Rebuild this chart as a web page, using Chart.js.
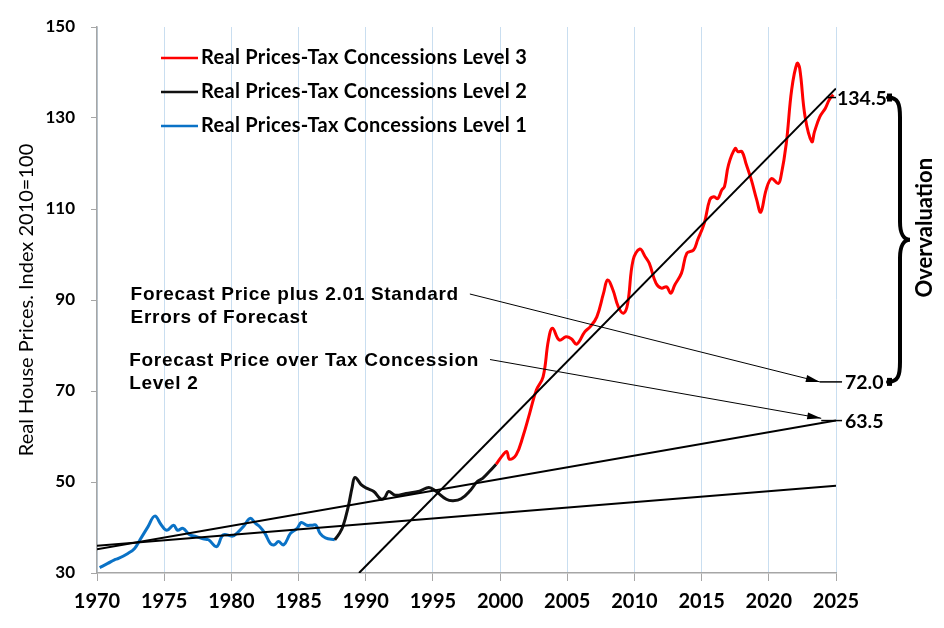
<!DOCTYPE html>
<html>
<head>
<meta charset="utf-8">
<script src="https://cdn.jsdelivr.net/npm/chart.js@4.4.1/dist/chart.umd.min.js"></script>
<style>
  html, body { margin: 0; padding: 0; background: #fff; }
</style>
</head>
<body>
<canvas id="priceChart" width="944" height="628"></canvas>
<script>
// Real house prices, index 2010=100
const lvl1Years = [1970.2, 1970.8, 1971.3, 1971.6, 1972.3, 1972.8, 1973.2, 1973.8, 1974.3, 1974.8, 1975.2, 1975.7,
    1976.0, 1976.4, 1976.9, 1977.4, 1977.9, 1978.3, 1978.9, 1979.4, 1980.1, 1980.5, 1980.9, 1981.4, 1981.8,
    1982.1, 1982.5, 1982.9, 1983.2, 1983.5, 1983.9, 1984.4, 1984.9, 1985.2, 1985.6, 1986.0, 1986.3, 1986.6,
    1987.0, 1987.7];
const lvl1Values = [31.2, 32.1, 32.9, 33.2, 34.3, 35.4, 37.3, 40.2, 42.5, 40.5, 39.4, 40.5,
    39.4, 39.8, 38.4, 38.0, 37.5, 37.3, 35.8, 38.4, 38.1, 39.0, 40.2, 42.0, 40.9,
    40.2, 38.7, 36.5, 36.2, 36.9, 36.2, 38.7, 39.8, 41.1, 40.5, 40.5, 40.5, 38.7,
    37.7, 37.3];

const lvl2Years = [1987.7, 1988.0, 1988.3, 1988.7, 1989.0, 1989.2, 1989.7, 1990.1, 1990.6, 1991.1, 1991.4,
    1991.7, 1992.2, 1993.0, 1994.0, 1994.7, 1995.2, 1996.0, 1996.5, 1997.1, 1997.8, 1998.3, 1998.7,
    1999.2, 1999.7];
const lvl2Values = [37.3, 38.5, 40.2, 44.6, 49.0, 51.0, 49.3, 48.6, 47.9, 46.3, 46.5,
    47.9, 47.1, 47.5, 48.0, 48.8, 48.0, 46.2, 45.9, 46.3, 48.2, 50.1, 50.8,
    52.3, 53.9];

const lvl3Years = [1999.7, 2000.2, 2000.5, 2000.7, 2001.2, 2001.7, 2002.2, 2002.7, 2003.2, 2003.6, 2003.9,
    2004.4, 2004.9, 2005.3, 2005.7, 2006.3, 2006.7, 2007.2, 2007.7, 2008.0, 2008.4, 2008.8, 2009.2,
    2009.5, 2009.9, 2010.4, 2010.8, 2011.1, 2011.6, 2012.0, 2012.4, 2012.7, 2013.0, 2013.5, 2013.9,
    2014.4, 2014.7, 2015.2, 2015.6, 2015.9, 2016.2, 2016.5, 2016.7, 2017.0, 2017.5, 2017.7, 2018.0,
    2018.3, 2018.7, 2019.1, 2019.4, 2019.8, 2020.2, 2020.7, 2020.9, 2021.3, 2021.7, 2022.1, 2022.3,
    2022.7, 2023.2, 2023.4, 2023.8, 2024.2, 2024.5, 2024.8];
const lvl3Values = [53.9, 55.9, 56.7, 55.0, 56.0, 60.0, 65.1, 70.2, 73.1, 81.2, 83.8,
    81.2, 81.9, 81.5, 80.3, 83.0, 84.1, 86.3, 91.5, 94.4, 92.2, 88.5, 87.1,
    89.3, 98.8, 101.2, 99.5, 98.1, 93.7, 92.6, 92.9, 91.5, 93.3, 95.9, 100.3,
    101.0, 103.2, 106.9, 112.0, 112.7, 112.3, 114.2, 114.9, 119.7, 123.3, 122.6, 122.6,
    120.0, 116.4, 112.0, 109.3, 114.2, 116.7, 115.6, 117.1, 124.4, 136.2, 142.0, 140.9,
    130.3, 124.8, 127.0, 130.3, 132.1, 134.0, 135.1];

// fitted trend lines
const trendYears = [1970, 2025];
const trendLvl2 = [35.2, 63.5];
const trendLvl1 = [36.0, 49.2];
const trendLvl3Years = [1989.5, 2025];
const trendLvl3 = [30, 136.5];

// end-of-period values marked at 2025
const markLabels = ['134.5', '72.0', '63.5'];
const markValues = [134.5, 72.0, 63.5];

const seriesLabels = [
    'Real Prices-Tax Concessions Level 3',
    'Real Prices-Tax Concessions Level 2',
    'Real Prices-Tax Concessions Level 1'
];

function toPoints(xs, ys) {
    return xs.map((v, i) => ({ x: v, y: ys[i] }));
}

// notes with arrows (text anchor in data units, arrow tip in data units)
const notes = [
    { lines: ['Forecast Price plus 2.01 Standard', 'Errors of Forecast'], year: 1972.5, value: 90.0, tipYear: 2023.8, tipValue: markValues[1] },
    { lines: ['Forecast Price over Tax Concession', 'Level 2'], year: 1972.4, value: 75.6, tipYear: 2023.9, tipValue: 64.0 }
];

function arrow(ctx, x1, y1, x2, y2) {
    ctx.beginPath();
    ctx.moveTo(x1, y1);
    ctx.lineTo(x2, y2);
    ctx.stroke();
    const a = Math.atan2(y2 - y1, x2 - x1);
    ctx.beginPath();
    ctx.moveTo(x2, y2);
    ctx.lineTo(x2 - 14 * Math.cos(a) + 3.5 * Math.sin(a), y2 - 14 * Math.sin(a) - 3.5 * Math.cos(a));
    ctx.lineTo(x2 - 14 * Math.cos(a) - 3.5 * Math.sin(a), y2 - 14 * Math.sin(a) + 3.5 * Math.cos(a));
    ctx.closePath();
    ctx.fill();
}

const extras = {
    id: 'extras',
    afterDraw(chart) {
        const { ctx, chartArea: area, scales: { x, y } } = chart;
        ctx.save();

        // legend inside the plot
        const legendSets = chart.data.datasets.filter(d => d.inLegend);
        ctx.font = 'bold 20px Lato';
        ctx.letterSpacing = '0.3px';
        ctx.textBaseline = 'middle';
        legendSets.forEach((d, i) => {
            const yy = 58 + i * 34;
            ctx.strokeStyle = d.borderColor;
            ctx.lineWidth = 2.5;
            ctx.beginPath();
            ctx.moveTo(161, yy);
            ctx.lineTo(198, yy);
            ctx.stroke();
            ctx.fillStyle = '#000';
            ctx.fillText(d.label, 201, yy);
        });

        // notes + arrows
        ctx.font = 'bold 19px "Liberation Sans"';
        ctx.letterSpacing = '0.7px';
        ctx.textBaseline = 'alphabetic';
        ctx.strokeStyle = '#000';
        ctx.fillStyle = '#000';
        ctx.lineWidth = 1;
        notes.forEach(n => {
            const tx = x.getPixelForValue(n.year);
            const ty = y.getPixelForValue(n.value);
            n.lines.forEach((t, k) => ctx.fillText(t, tx, ty + k * 23));
            const sx = tx + ctx.measureText(n.lines[0]).width + 11;
            const tipX = x.getPixelForValue(n.tipYear);
            const tipY = y.getPixelForValue(n.tipValue);
            arrow(ctx, sx, ty - 6, tipX, tipY);
        });
        ctx.letterSpacing = '0px';

        // leaders to the end values
        ctx.lineWidth = 1.5;
        const leaderFrom = [2024.3, 2023.8, 2023.9];
        const leaderTo = [2025, 2025.45, 2025.45];
        markValues.forEach((v, i) => {
            ctx.beginPath();
            ctx.moveTo(x.getPixelForValue(leaderFrom[i]), y.getPixelForValue(v));
            ctx.lineTo(x.getPixelForValue(leaderTo[i]), y.getPixelForValue(v));
            ctx.stroke();
        });

        ctx.font = 'bold 19.5px Lato';
        ctx.textBaseline = 'middle';
        markLabels.forEach((t, i) => {
            const lx = i === 0 ? area.right + 1 : area.right + 9;
            ctx.fillText(t, lx, y.getPixelForValue(markValues[i]) + 1);
        });

        // curly brace for overvaluation
        const top = y.getPixelForValue(markValues[0]);
        const bot = y.getPixelForValue(markValues[1]);
        const mid = (top + bot) / 2;
        const bx = area.right + 52;
        ctx.lineWidth = 4;
        ctx.lineCap = 'round';
        ctx.beginPath();
        ctx.moveTo(bx, top);
        ctx.bezierCurveTo(bx + 10, top, bx + 12, top + 6, bx + 12, top + 20);
        ctx.lineTo(bx + 12, mid - 18);
        ctx.bezierCurveTo(bx + 12, mid - 6, bx + 16, mid, bx + 22, mid);
        ctx.bezierCurveTo(bx + 16, mid, bx + 12, mid + 6, bx + 12, mid + 18);
        ctx.lineTo(bx + 12, bot - 20);
        ctx.bezierCurveTo(bx + 12, bot - 6, bx + 10, bot, bx, bot);
        ctx.stroke();
        ctx.fillRect(bx - 1, top - 4, 5, 8);
        ctx.fillRect(bx - 1, bot - 4, 5, 8);

        ctx.translate(area.right + 89, mid - 12);
        ctx.rotate(-Math.PI / 2);
        ctx.font = 'bold 22px Lato';
        ctx.textAlign = 'center';
        ctx.fillText('Overvaluation', 0, 0);
        ctx.restore();
    }
};

const tickFont = { family: 'Lato', weight: 'bold' };

new Chart(document.getElementById('priceChart').getContext('2d'), {
    type: 'line',
    data: {
        datasets: [
            { label: 'trend2', data: toPoints(trendYears, trendLvl2), borderColor: '#000', borderWidth: 2, tension: 0, order: 1 },
            { label: 'trend1', data: toPoints(trendYears, trendLvl1), borderColor: '#000', borderWidth: 2, tension: 0, order: 1 },
            { label: 'trend3', data: toPoints(trendLvl3Years, trendLvl3), borderColor: '#000', borderWidth: 2, tension: 0, order: 1 },
            { label: seriesLabels[0], data: toPoints(lvl3Years, lvl3Values), borderColor: '#ff0000', borderWidth: 3, tension: 0.4, inLegend: true, order: 2 },
            { label: seriesLabels[1], data: toPoints(lvl2Years, lvl2Values), borderColor: '#111111', borderWidth: 3, tension: 0.4, inLegend: true, order: 2 },
            { label: seriesLabels[2], data: toPoints(lvl1Years, lvl1Values), borderColor: '#0a72c6', borderWidth: 3, tension: 0.4, inLegend: true, order: 2 }
        ]
    },
    options: {
        responsive: false,
        animation: false,
        devicePixelRatio: 1,
        layout: { padding: { top: 27, right: 108, left: 0, bottom: 0 } },
        elements: { point: { radius: 0 } },
        plugins: { legend: { display: false }, tooltip: { enabled: false } },
        scales: {
            x: {
                type: 'linear',
                min: 1970,
                max: 2025,
                ticks: { stepSize: 5, callback: v => String(v), color: '#000', font: { ...tickFont, size: 20 }, padding: 9, maxRotation: 0 },
                grid: { color: '#c9def0', tickColor: '#a6a6a6', tickLength: 8 },
                border: { color: '#a6a6a6', width: 1.5 },
                afterFit(s) { s.height = 55; }
            },
            y: {
                min: 30,
                max: 150,
                ticks: { stepSize: 20, color: '#000', font: { ...tickFont, size: 17 }, padding: 16 },
                grid: { drawOnChartArea: false, tickColor: '#a6a6a6', tickLength: 6 },
                border: { color: '#a6a6a6', width: 1.5 },
                title: { display: true, text: 'Real House Prices. Index 2010=100', color: '#000', font: { family: 'Lato', size: 20 }, padding: { top: 15, bottom: 0 } },
                afterFit(s) { s.width = 97; }
            }
        }
    },
    plugins: [extras]
});
</script>
</body>
</html>
